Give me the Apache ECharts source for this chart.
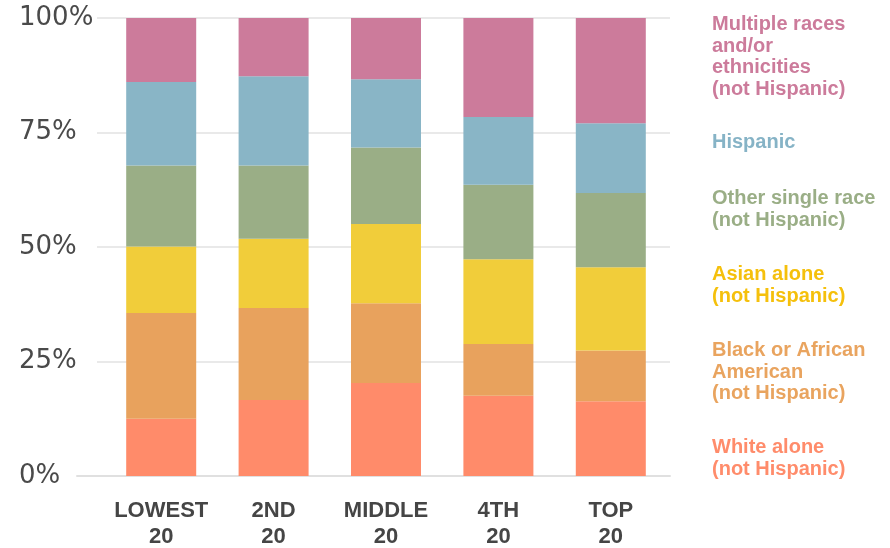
<!DOCTYPE html>
<html><head><meta charset="utf-8">
<script src="https://cdn.jsdelivr.net/npm/echarts/dist/echarts.min.js"></script>
<style>html,body{margin:0;padding:0;background:#fff}#c{width:890px;height:548px}</style>
</head><body><div id="c"></div>
<script>
// ---- data ----
const categories = ['LOWEST\n20', '2ND\n20', 'MIDDLE\n20', '4TH\n20', 'TOP\n20'];
const seriesNames = ['White alone', 'Black or African American', 'Asian alone', 'Other single race', 'Hispanic', 'Multiple races and/or ethnicities'];
const white    = [12.5, 16.6, 20.3, 17.5, 16.3];
const black    = [23.1, 20.1, 17.4, 11.3, 11.1];
const asian    = [14.5, 15.1, 17.3, 18.5, 18.2];
const other    = [17.7, 16.0, 16.7, 16.3, 16.2];
const hispanic = [18.2, 19.5, 14.9, 14.8, 15.2];
const multiple = [14.0, 12.7, 13.4, 21.6, 23.0];
const yTicks = [0, 25, 50, 75, 100];
const legendLabels = [
  'Multiple races\nand/or\nethnicities\n(not Hispanic)',
  'Hispanic',
  'Other single race\n(not Hispanic)',
  'Asian alone\n(not Hispanic)',
  'Black or African\nAmerican\n(not Hispanic)',
  'White alone\n(not Hispanic)'
];

// ---- style ----
const barColors = ['#FF8B6A', '#E8A25D', '#F1CD3A', '#9AAE86', '#89B5C6', '#CC7B9B'];
const legendColors = ['#CC7B9B', '#86B3C6', '#9AAE86', '#F5C00C', '#E9A45F', '#FF8C6B'];
const legendTops = [14, 132, 188, 264, 340, 437];

const values = [white, black, asian, other, hispanic, multiple];

const chart = echarts.init(document.getElementById('c'), null, {renderer: 'canvas'});
const series = values.map((v, i) => ({
  name: seriesNames[i],
  type: 'bar',
  stack: 'total',
  xAxisIndex: 0, yAxisIndex: 0,
  barWidth: 70,
  data: v,
  itemStyle: {color: barColors[i], borderWidth: 0},
  emphasis: {disabled: true},
  animation: false
}));

chart.setOption({
  animation: false,
  grid: [
    {left: 105, right: 223, top: 18, bottom: 72, containLabel: false, outerBoundsMode: 'none'},
    {left: 97, right: 220, top: 18, bottom: 72, containLabel: false, outerBoundsMode: 'none'},
    {left: 77, right: 220, top: 18, bottom: 72, containLabel: false, outerBoundsMode: 'none'}
  ],
  xAxis: [
    {type: 'category', gridIndex: 0, data: categories,
     axisLine: {show: false}, axisTick: {show: false},
     axisLabel: {color: '#454545', fontFamily: '"Liberation Sans", Arial, sans-serif', fontWeight: 'bold', fontSize: 22, lineHeight: 26, margin: 22, interval: 0}},
    {type: 'category', gridIndex: 1, data: [''], show: false},
    {type: 'category', gridIndex: 2, data: [''],
     axisLine: {show: true, lineStyle: {color: '#e0e0e0', width: 2}}, axisTick: {show: false}, axisLabel: {show: false}}
  ],
  yAxis: [
    {type: 'value', gridIndex: 0, min: 0, max: 100, interval: 25, show: false, splitLine: {show: false}},
    {type: 'value', gridIndex: 1, min: 0, max: 100, interval: 25,
     axisLine: {show: false}, axisTick: {show: false},
     splitLine: {show: true, lineStyle: {color: '#e2e2e2', width: 1.5}},
     axisLabel: {formatter: v => yTicks.includes(v) ? v + '%' : '', align: 'left', margin: 78,
                 color: '#4a4a4a', fontFamily: '"DejaVu Sans", sans-serif', fontSize: 26}},
    {type: 'value', gridIndex: 2, min: 0, max: 100, show: false}
  ],
  series: series,
  graphic: legendLabels.map((t, i) => ({
    type: 'text', left: 712, top: legendTops[i], silent: true,
    style: {text: t, fill: legendColors[i], font: 'bold 20px "Liberation Sans", Arial, sans-serif', lineHeight: 21.5}
  }))
});
</script></body></html>
